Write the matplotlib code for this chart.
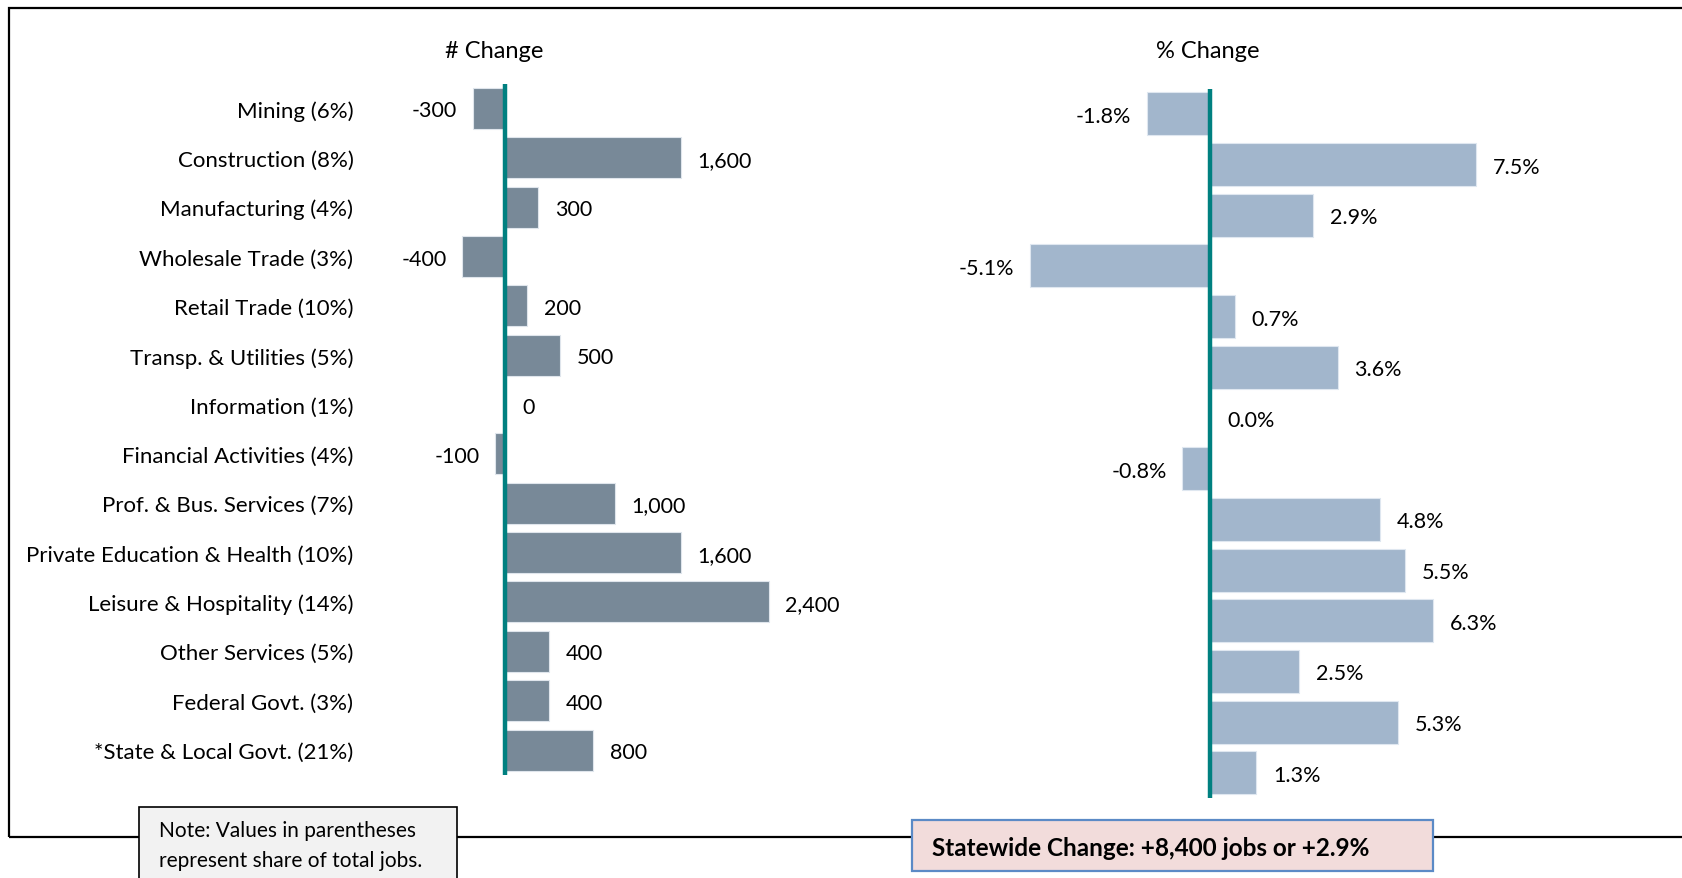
import matplotlib.pyplot as plt
from matplotlib.patches import Rectangle

plt.rcParams['font.family'] = ['Lato', 'DejaVu Sans']

# data
industries = ['Mining (6%)', 'Construction (8%)', 'Manufacturing (4%)', 'Wholesale Trade (3%)',
              'Retail Trade (10%)', 'Transp. & Utilities (5%)', 'Information (1%)',
              'Financial Activities (4%)', 'Prof. & Bus. Services (7%)',
              'Private Education & Health (10%)', 'Leisure & Hospitality (14%)',
              'Other Services (5%)', 'Federal Govt. (3%)', '*State & Local Govt. (21%)']
num_change = [-300, 1600, 300, -400, 200, 500, 0, -100, 1000, 1600, 2400, 400, 400, 800]
pct_change = [-1.8, 7.5, 2.9, -5.1, 0.7, 3.6, 0.0, -0.8, 4.8, 5.5, 6.3, 2.5, 5.3, 1.3]
total_note = 'Statewide Change: +8,400 jobs or +2.9%'

W, H = 1683, 879
fig = plt.figure(figsize=(W / 100, H / 100), dpi=100)

def px_axes(x0, y0, x1, y1):
    return fig.add_axes([x0 / W, 1 - y1 / H, (x1 - x0) / W, (y1 - y0) / H])

teal = '#008080'
fs_lab = 16
fs_val = 15.5

# left panel: number change
ax1 = px_axes(450.7, 84.8, 834.3, 775.7)
y = range(len(industries))
ax1.barh(y, num_change, height=0.83, color='#788998', edgecolor='#dfe5ec', linewidth=0.8)
ax1.axvline(0, color=teal, lw=3.2)
ax1.set_xlim(-500, 3000)
ax1.set_ylim(13.5, -0.5)
ax1.set_yticks(list(y))
ax1.set_yticklabels(industries, fontsize=fs_lab)
ax1.tick_params(axis='y', length=0, pad=70)
ax1.set_xticks([])
for s in ax1.spines.values():
    s.set_visible(False)
for i, v in enumerate(num_change):
    if v >= 0:
        ax1.annotate(f'{v:,}', (v, i), xytext=(12, 0), textcoords='offset points',
                     ha='left', va='center_baseline', fontsize=fs_val)
    else:
        ax1.annotate(f'{v:,}', (v, i), xytext=(-11, 0), textcoords='offset points',
                     ha='right', va='center_baseline', fontsize=fs_val)

# right panel: percent change
ax2 = px_axes(998, 89.5, 1529, 799.2)
ax2.barh(y, pct_change, height=0.85, color='#a2b6cc', edgecolor='#dfe7f0', linewidth=0.8)
ax2.axvline(0, color=teal, lw=3.2)
ax2.set_xlim(-6, 9)
ax2.set_ylim(13.5, -0.5)
ax2.set_xticks([])
ax2.set_yticks([])
for s in ax2.spines.values():
    s.set_visible(False)
for i, v in enumerate(pct_change):
    if v >= 0:
        ax2.annotate(f'{v:.1f}%', (v, i), xytext=(12, 0), textcoords='offset points',
                     ha='left', va='center_baseline', fontsize=fs_val)
    else:
        ax2.annotate(f'{v:.1f}%', (v, i), xytext=(-11, 0), textcoords='offset points',
                     ha='right', va='center_baseline', fontsize=fs_val)

fig.text(494 / W, 1 - 49.4 / H, '# Change', ha='center', va='center_baseline', fontsize=17)
fig.text(1207.5 / W, 1 - 49.4 / H, '% Change', ha='center', va='center_baseline', fontsize=17)

# outer frame
fig.add_artist(Rectangle((8.6 / W, 1 - 838 / H), 1.2, (838 - 8.6) / H, transform=fig.transFigure,
                         fill=False, ec='black', lw=1.6, zorder=1))

# note box
fig.add_artist(Rectangle((139.5 / W, 1 - 890 / H), (457 - 139.5) / W, (890 - 808) / H,
                         transform=fig.transFigure, fc='#f2f2f2', ec='black', lw=1.2, zorder=3))
fig.text(159 / W, 1 - 846 / H, 'Note: Values in parentheses\nrepresent share of total jobs.',
         ha='left', va='center', fontsize=15, linespacing=1.6, zorder=4)

# statewide box
fig.add_artist(Rectangle((912 / W, 1 - 871.5 / H), (1433 - 912) / W, (871.5 - 821) / H,
                         transform=fig.transFigure, fc='#f2dcdb', ec='#5b8ac6', lw=1.6, zorder=3))
fig.text(931.6 / W, 1 - 847 / H, total_note, ha='left', va='center_baseline', fontsize=17.5,
         fontweight='bold', zorder=4)

fig.savefig('out.png', dpi=100)
